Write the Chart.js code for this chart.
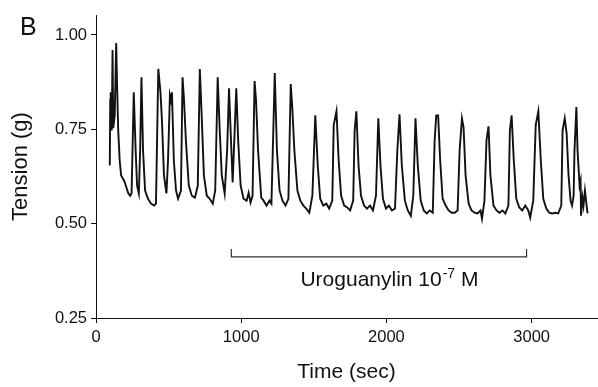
<!DOCTYPE html>
<html>
<head>
<meta charset="utf-8">
<script src="https://cdn.jsdelivr.net/npm/chart.js@4"></script>
<style>
  html, body { margin: 0; padding: 0; background: #fff; }
  #wrap { width: 598px; height: 387px; }
</style>
</head>
<body>
<div id="wrap"><canvas id="trace"></canvas></div>
<script>
// Tension trace (time in sec, tension in g)
const timeSec = [
  95, 98, 101, 108, 114, 119, 129, 139, 146, 153, 163, 173, 194, 208, 221, 235, 245,
  260, 273, 283, 295, 304, 313, 324, 338, 358, 379, 400, 413,
  429, 444, 454, 468, 485, 496, 509, 516, 523, 536, 551, 565, 585,
  596, 605, 619, 639, 660, 681, 701, 715, 729, 743, 763, 783, 804, 821,
  838, 852, 866, 886, 903, 916, 927, 941, 955, 966, 979, 996, 1016, 1037, 1051, 1064, 1078,
  1092, 1102, 1116, 1138, 1154, 1174, 1195, 1208,
  1231, 1246, 1264, 1284, 1305, 1325,
  1341, 1352, 1366, 1387, 1407, 1428, 1448, 1469, 1490,
  1510, 1527, 1544, 1565, 1586, 1606, 1627, 1637,
  1656, 1671, 1688, 1709, 1730, 1750, 1771, 1781,
  1793, 1808, 1825, 1846, 1866, 1887, 1907, 1928,
  1944, 1959, 1976, 1997, 2017, 2038, 2059, 2075,
  2090, 2106, 2127, 2147, 2168, 2185,
  2200, 2216, 2236, 2257, 2278, 2298, 2319, 2332, 2343,
  2356, 2370, 2387, 2408, 2428, 2449, 2470, 2490, 2504,
  2520, 2531, 2545, 2566, 2586, 2607, 2627, 2648, 2658, 2675, 2689,
  2703, 2716, 2737, 2758, 2778, 2799, 2819, 2840, 2850,
  2862, 2877, 2894, 2915, 2935, 2956, 2977, 2990, 3011, 3028,
  3046, 3063, 3080, 3101, 3121, 3142, 3163, 3183, 3204, 3213,
  3228, 3241, 3254, 3268, 3278, 3289, 3295,
  3308, 3316, 3323, 3330, 3337, 3340, 3350, 3357, 3367, 3377, 3385
];
const tensionG = [
  0.654, 0.827, 0.848, 0.747, 0.960, 0.753, 0.787, 0.979, 0.854, 0.747, 0.668, 0.628, 0.614, 0.598, 0.582, 0.574, 0.580,
  0.848, 0.694, 0.601, 0.580, 0.694, 0.888, 0.694, 0.588, 0.566, 0.553, 0.548, 0.553,
  0.910, 0.848, 0.774, 0.628, 0.580, 0.668, 0.840, 0.827, 0.848, 0.668, 0.588, 0.566, 0.588,
  0.888, 0.835, 0.721, 0.601, 0.574, 0.569, 0.601, 0.910, 0.774, 0.628, 0.574, 0.566, 0.553, 0.588,
  0.888, 0.747, 0.628, 0.580, 0.694, 0.859, 0.747, 0.609, 0.747, 0.859, 0.721, 0.601, 0.566, 0.561, 0.582, 0.556, 0.574,
  0.878, 0.827, 0.694, 0.569, 0.561, 0.548, 0.561, 0.553,
  0.899, 0.694, 0.588, 0.561, 0.548, 0.566,
  0.870, 0.806, 0.694, 0.588, 0.561, 0.548, 0.540, 0.529, 0.574,
  0.787, 0.654, 0.566, 0.548, 0.553, 0.540, 0.561, 0.761,
  0.798, 0.668, 0.574, 0.548, 0.543, 0.535, 0.561, 0.747,
  0.798, 0.654, 0.574, 0.548, 0.540, 0.548, 0.535, 0.574,
  0.779, 0.654, 0.566, 0.540, 0.548, 0.535, 0.540, 0.694,
  0.790, 0.654, 0.561, 0.535, 0.521, 0.574,
  0.779, 0.654, 0.561, 0.535, 0.527, 0.535, 0.529, 0.721, 0.787,
  0.787, 0.668, 0.566, 0.548, 0.535, 0.529, 0.529, 0.535, 0.694,
  0.779, 0.755, 0.628, 0.553, 0.535, 0.529, 0.527, 0.535, 0.513, 0.561, 0.721,
  0.758, 0.628, 0.548, 0.535, 0.529, 0.535, 0.527, 0.548, 0.747,
  0.787, 0.668, 0.566, 0.543, 0.535, 0.548, 0.535, 0.516, 0.561, 0.761,
  0.798, 0.668, 0.566, 0.540, 0.529, 0.527, 0.529, 0.527, 0.548, 0.747,
  0.779, 0.739, 0.628, 0.561, 0.548, 0.574, 0.694,
  0.809, 0.694, 0.649, 0.601, 0.614, 0.521, 0.569, 0.548, 0.588, 0.553, 0.527
];

// Uroguanylin application bracket
const bracketT = [932, 932, 2965, 2965];
const bracketV = [0.433, 0.412, 0.412, 0.433];

const xTicks = [0, 1000, 2000, 3000];
const yTicks = [0.25, 0.50, 0.75, 1.00];

const FONT = "'Liberation Sans', Arial, Helvetica, sans-serif";
const INK = '#111';

const toXY = (xs, ys) => xs.map((x, i) => ({ x, y: ys[i] }));

// panel letter + bracket label
const annotate = {
  id: 'annotate',
  afterDraw(chart) {
    const { ctx, scales: { x, y } } = chart;
    ctx.save();
    ctx.fillStyle = INK;
    ctx.textBaseline = 'alphabetic';

    ctx.font = `25px ${FONT}`;
    ctx.textAlign = 'left';
    ctx.fillText('B', 20, 35);

    const mid = x.getPixelForValue((bracketT[0] + bracketT[2]) / 2) + 10;
    const base = y.getPixelForValue(bracketV[1]) + 29;
    const main = 'Uroguanylin 10', sup = '-7', tail = ' M';
    ctx.font = `21px ${FONT}`;
    const w1 = ctx.measureText(main).width, w3 = ctx.measureText(tail).width;
    ctx.font = `14px ${FONT}`;
    const w2 = ctx.measureText(sup).width;
    let left = mid - (w1 + w2 + w3) / 2;
    ctx.font = `21px ${FONT}`;
    ctx.fillText(main, left, base);
    ctx.font = `14px ${FONT}`;
    ctx.fillText(sup, left + w1 + 1, base - 8);
    ctx.font = `21px ${FONT}`;
    ctx.fillText(tail, left + w1 + w2 + 1, base);
    ctx.restore();
  }
};

new Chart(document.getElementById('trace'), {
  type: 'line',
  data: {
    datasets: [
      {
        data: toXY(timeSec, tensionG),
        borderColor: '#111',
        borderWidth: 1.9,
        pointRadius: 0,
        tension: 0,
      },
      {
        data: toXY(bracketT, bracketV),
        borderColor: '#333',
        borderWidth: 1.2,
        pointRadius: 0,
        tension: 0,
      },
    ],
  },
  options: {
    responsive: true,
    maintainAspectRatio: false,
    animation: false,
    layout: { padding: { top: 15, right: 1, left: 0, bottom: 0 } },
    plugins: { legend: { display: false }, tooltip: { enabled: false } },
    scales: {
      x: {
        type: 'linear',
        min: 0, max: 3450,
        afterBuildTicks: s => { s.ticks = xTicks.map(value => ({ value })); },
        afterFit: s => { s.height = 69; },
        grid: { drawOnChartArea: false, tickLength: 5, color: INK },
        border: { color: INK, width: 1 },
        ticks: { color: INK, font: { family: FONT, size: 16.5 }, padding: 5, maxRotation: 0,
                 callback: v => String(v) },
        title: { display: true, text: 'Time (sec)', color: INK,
                 font: { family: FONT, size: 21 }, padding: { top: 0, bottom: 2 } },
      },
      y: {
        min: 0.25, max: 1.053,
        afterBuildTicks: s => { s.ticks = yTicks.map(value => ({ value })); },
        afterFit: s => { s.width = 96; },
        grid: { drawOnChartArea: false, tickLength: 5, color: INK },
        border: { color: INK, width: 1 },
        ticks: { color: INK, font: { family: FONT, size: 16.5 }, padding: 4,
                 callback: v => v.toFixed(2) },
        title: { display: true, text: 'Tension (g)', color: INK,
                 font: { family: FONT, size: 22 }, padding: { top: 8, bottom: 0 } },
      },
    },
  },
  plugins: [annotate],
});
</script>
</body>
</html>
